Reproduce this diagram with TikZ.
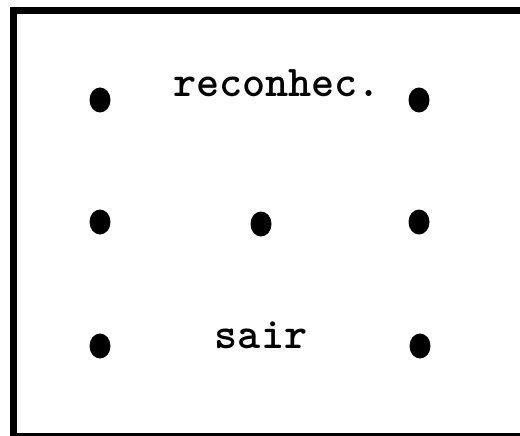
\documentclass[tikz,border=0pt]{standalone}
\usepackage{fontspec}
\usetikzlibrary{shapes.geometric}
\tikzset{
  dot/.style={ellipse, fill=black, draw=none, minimum width=21pt, minimum height=25pt, inner sep=0pt},
  label/.style={font=\ttfamily\bfseries\fontsize{44}{44}\selectfont, anchor=base, inner sep=0pt},
  frame/.style={line width=7pt, line cap=rect}
}
\begin{document}
\begin{tikzpicture}[x=1pt,y=-1pt]
\useasboundingbox[fill=white] (0,0) rectangle (520,436);
\coordinate (tl) at (13.5,10.5);
\coordinate (tr) at (520,10.5);
\coordinate (bl) at (13.5,436);
\coordinate (bll) at (10,434);
\coordinate (brr) at (520,434);
\draw[frame] (tr) -- (tl) -- (bl);
\draw[line width=3pt] (bll) -- (brr);
\node[dot] (d11) at (100,100) {};
\node[dot] (d13) at (419,100) {};
\node[dot] (d21) at (100,222) {};
\node[dot] (d22) at (261,224) {};
\node[dot] (d23) at (419,222) {};
\node[dot] (d31) at (100,346) {};
\node[dot] (d33) at (420,346) {};
\node[label] (t1) at (277,97) {reconhec.};
\node[label] (t2) at (261,348) {sair};
\end{tikzpicture}
\end{document}
